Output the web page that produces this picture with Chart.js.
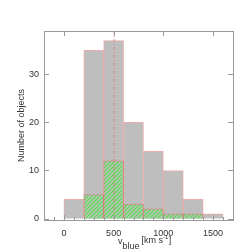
<!DOCTYPE html>
<html>
<head>
<meta charset="utf-8">
<script src="https://cdn.jsdelivr.net/npm/chart.js@4"></script>
<style>
  html, body { margin: 0; padding: 0; background: #fff; }
  #wrap { width: 252px; height: 252px; }
</style>
</head>
<body>
<div id="wrap"><canvas id="hist" width="252" height="252"></canvas></div>
<script>
// bin centres (km/s), bin width 200
const binCenters = [100, 300, 500, 700, 900, 1100, 1300, 1500];
const allCounts  = [4, 35, 37, 20, 14, 10, 4, 1];
const subCounts  = [0, 5, 12, 3, 2, 1, 1, 0];
const xTicks = [0, 500, 1000, 1500];
const yTicks = [0, 10, 20, 30];
const markerV = 500;

const AXIS = '#9a9a9a';
const FONT = '"Liberation Sans", Arial, sans-serif';

function hatch() {
  const c = document.createElement('canvas');
  c.width = 4; c.height = 4;
  const g = c.getContext('2d');
  g.fillStyle = '#bcc4b8';
  g.fillRect(0, 0, 4, 4);
  g.strokeStyle = '#4ee04e';
  g.lineWidth = 1.2;
  g.beginPath();
  g.moveTo(-1, 5); g.lineTo(5, -1);
  g.moveTo(-1, 1); g.lineTo(1, -1);
  g.moveTo(3, 5); g.lineTo(5, 3);
  g.stroke();
  return g.createPattern(c, 'repeat');
}

// inside ticks on all four sides, marker line, axis titles
const decor = {
  id: 'decor',
  afterDatasetsDraw(chart) {
    const { ctx, chartArea: a, scales: { x, y } } = chart;
    ctx.save();
    // dash-dot marker
    const mx = x.getPixelForValue(markerV);
    ctx.strokeStyle = 'rgba(225,110,110,0.75)';
    ctx.lineWidth = 1;
    ctx.setLineDash([3, 2, 1, 2]);
    ctx.beginPath();
    ctx.moveTo(mx + 0.5, a.top); ctx.lineTo(mx + 0.5, a.bottom);
    ctx.stroke();
    ctx.setLineDash([]);

    ctx.strokeStyle = AXIS;
    ctx.lineWidth = 1;
    ctx.beginPath();
    for (let v = -100; v <= 1700; v += 100) {
      const px = Math.round(x.getPixelForValue(v)) + 0.5;
      const big = v % 500 === 0;
      ctx.moveTo(px, a.bottom); ctx.lineTo(px, a.bottom - (big ? 5 : 3));
      if (big) { ctx.moveTo(px, a.top); ctx.lineTo(px, a.top + 5); }
    }
    yTicks.forEach(v => {
      const py = Math.round(y.getPixelForValue(v)) + 0.5;
      ctx.moveTo(a.left, py); ctx.lineTo(a.left + 5, py);
      ctx.moveTo(a.right, py); ctx.lineTo(a.right - 5, py);
    });
    ctx.stroke();

    // axis titles
    ctx.fillStyle = '#333';
    ctx.font = '9px ' + FONT;
    ctx.textBaseline = 'middle';
    ctx.save();
    ctx.translate(22, (a.top + a.bottom) / 2);
    ctx.rotate(-Math.PI / 2);
    ctx.textAlign = 'center';
    ctx.fillText('Number of objects', 0, 0);
    ctx.restore();

    ctx.textAlign = 'left';
    let tx = 118;
    ctx.fillText('v', tx, 242); tx += ctx.measureText('v').width;
    ctx.fillText('blue', tx, 246.5); tx += ctx.measureText('blue').width + 2;
    ctx.fillText('[km s', tx, 241); tx += ctx.measureText('[km s').width;
    ctx.font = '6px ' + FONT;
    ctx.fillText('-1', tx, 237.5); tx += ctx.measureText('-1').width + 0.5;
    ctx.font = '9px ' + FONT;
    ctx.fillText(']', tx, 241);
    ctx.restore();
  }
};

new Chart(document.getElementById('hist'), {
  type: 'bar',
  data: {
    datasets: [
      {
        label: 'subset',
        data: binCenters.map((c, i) => ({ x: c, y: subCounts[i] })),
        backgroundColor: hatch(),
        borderColor: 'rgba(215,120,120,0.8)',
        borderWidth: 1,
        grouped: false,
        barPercentage: 1, categoryPercentage: 1
      },
      {
        label: 'all',
        data: binCenters.map((c, i) => ({ x: c, y: allCounts[i] })),
        backgroundColor: '#bebebe',
        borderColor: 'rgba(232,165,165,0.9)',
        borderWidth: 1,
        grouped: false,
        barPercentage: 1, categoryPercentage: 1
      }
    ]
  },
  options: {
    responsive: false,
    animation: false,
    layout: { padding: { left: 0, top: 31, right: 19, bottom: 0 } },
    plugins: { legend: { display: false }, tooltip: { enabled: false } },
    scales: {
      x: {
        type: 'linear', min: -200, max: 1700, offset: false,
        afterFit(s) { s.height = 32; },
        afterBuildTicks(s) { s.ticks = xTicks.map(v => ({ value: v })); },
        grid: { display: false, drawTicks: false },
        border: { color: AXIS, width: 1 },
        ticks: { color: '#333', font: { family: FONT, size: 9 }, padding: 8, maxRotation: 0,
                 callback: v => String(v) }
      },
      x2: {
        type: 'linear', position: 'top', min: -200, max: 1700,
        grid: { display: false, drawTicks: false },
        border: { color: AXIS, width: 1 },
        ticks: { display: false },
        afterFit(s) { s.height = 0; }
      },
      y: {
        min: -0.3, max: 39,
        afterFit(s) { s.width = 44; },
        afterBuildTicks(s) { s.ticks = yTicks.map(v => ({ value: v })); },
        grid: { display: false, drawTicks: false },
        border: { color: AXIS, width: 1 },
        ticks: { color: '#333', font: { family: FONT, size: 9 }, padding: 5 }
      },
      y2: {
        position: 'right', min: -0.3, max: 39,
        grid: { display: false, drawTicks: false },
        border: { color: AXIS, width: 1 },
        ticks: { display: false },
        afterFit(s) { s.width = 0; }
      }
    }
  },
  plugins: [decor]
});
</script>
</body>
</html>
